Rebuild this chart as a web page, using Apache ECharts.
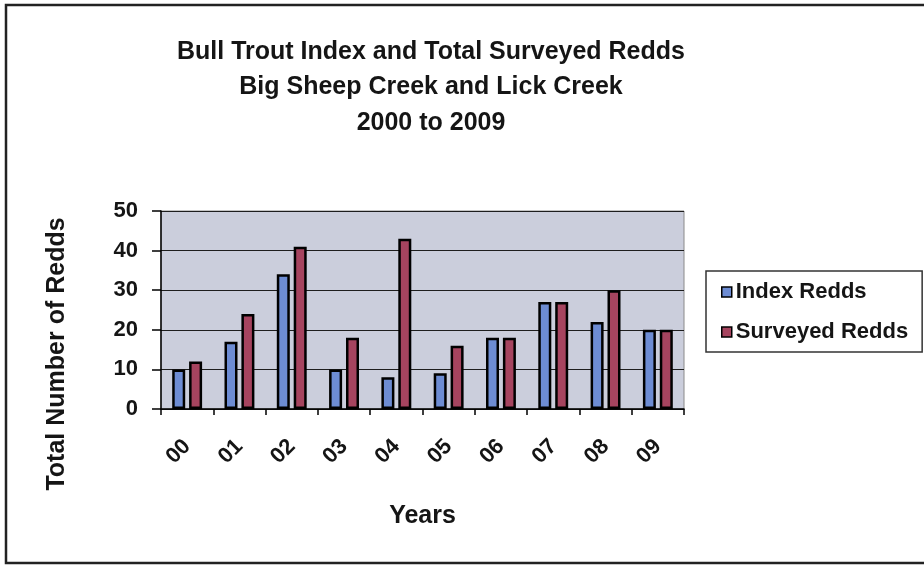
<!DOCTYPE html>
<html>
<head>
<meta charset="utf-8">
<script src="https://cdn.jsdelivr.net/npm/echarts@6/dist/echarts.min.js"></script>
<style>
  html, body { margin: 0; padding: 0; background: #ffffff; }
  #chart { width: 924px; height: 565px; }
</style>
</head>
<body>
<div id="chart"></div>
<script>
// Redd counts per survey year
const years = ['00', '01', '02', '03', '04', '05', '06', '07', '08', '09'];
const indexRedds = [10, 17, 34, 10, 8, 9, 18, 27, 22, 20];
const surveyedRedds = [12, 24, 41, 18, 43, 16, 18, 27, 30, 20];
const yTicks = { min: 0, max: 50, interval: 10 };

const FONT = '"Liberation Sans", Arial, sans-serif';
const INK = '#151515';
const chart = echarts.init(document.getElementById('chart'), null, { renderer: 'canvas' });

chart.setOption({
  backgroundColor: '#ffffff',
  animation: false,
  title: {
    text: 'Bull Trout Index and Total Surveyed Redds\nBig Sheep Creek and Lick Creek\n2000 to 2009',
    left: 426,
    top: 29,
    textAlign: 'center',
    textStyle: { fontFamily: FONT, fontWeight: 'bold', fontSize: 25, lineHeight: 35.5, color: INK }
  },
  graphic: [
    {
      type: 'rect',
      shape: { x: 6, y: 5, width: 930, height: 558 },
      style: { fill: 'none', stroke: '#222', lineWidth: 2.5 },
      z: 100
    },
    {
      type: 'rect',
      shape: { x: 161, y: 211, width: 523, height: 198 },
      style: { fill: 'none', stroke: '#8a8a8a', lineWidth: 1 },
      z: 0
    },
    {
      // vertical axis title
      type: 'text',
      x: 57,
      y: 354,
      rotation: Math.PI / 2,
      style: {
        text: 'Total Number of Redds',
        fontFamily: FONT,
        fontWeight: 'bold',
        fontSize: 25,
        fill: INK,
        textAlign: 'center',
        textVerticalAlign: 'middle'
      }
    }
  ],
  legend: {
    orient: 'vertical',
    left: 706,
    top: 271,
    padding: [10, 14, 9, 15],
    itemGap: 18,
    itemWidth: 10,
    itemHeight: 10,
    icon: 'rect',
    borderColor: '#333',
    borderWidth: 1.5,
    itemStyle: { borderColor: '#000', borderWidth: 1.5 },
    textStyle: { fontFamily: FONT, fontWeight: 'bold', fontSize: 22, color: INK, padding: [0, 0, 0, -1] },
    data: ['Index Redds', 'Surveyed Redds']
  },
  grid: {
    left: 161,
    right: 240,
    top: 211,
    bottom: 156,
    show: true,
    backgroundColor: '#cbcedc',
    borderWidth: 0
  },
  xAxis: {
    type: 'category',
    data: years,
    name: 'Years',
    nameLocation: 'middle',
    nameGap: 95,
    nameTextStyle: { fontFamily: FONT, fontWeight: 'bold', fontSize: 25, color: INK },
    axisLine: { lineStyle: { color: '#000', width: 1.5 } },
    axisTick: { show: true, alignWithLabel: false, length: 6, lineStyle: { color: '#000', width: 1.5 } },
    axisLabel: {
      rotate: 45,
      margin: 34,
      fontFamily: FONT,
      fontWeight: 'bold',
      fontSize: 22,
      color: INK
    },
    splitLine: { show: false }
  },
  yAxis: {
    type: 'value',
    min: yTicks.min,
    max: yTicks.max,
    interval: yTicks.interval,
    axisLine: { show: true, lineStyle: { color: '#000', width: 1.5 } },
    axisTick: { show: true, length: 9, lineStyle: { color: '#000', width: 1.5 } },
    axisLabel: { margin: 23, fontFamily: FONT, fontWeight: 'bold', fontSize: 22, color: INK },
    splitLine: { show: true, lineStyle: { color: '#1e1e1e', width: 1.2 } }
  },
  series: [
    {
      name: 'Index Redds',
      type: 'bar',
      data: indexRedds,
      barWidth: 13,
      barGap: '30%',
      itemStyle: { color: '#6d8cd3', borderColor: '#000', borderWidth: 2.5 }
    },
    {
      name: 'Surveyed Redds',
      type: 'bar',
      data: surveyedRedds,
      barWidth: 13,
      itemStyle: { color: '#a6445f', borderColor: '#000', borderWidth: 2.5 }
    }
  ]
});
</script>
</body>
</html>
